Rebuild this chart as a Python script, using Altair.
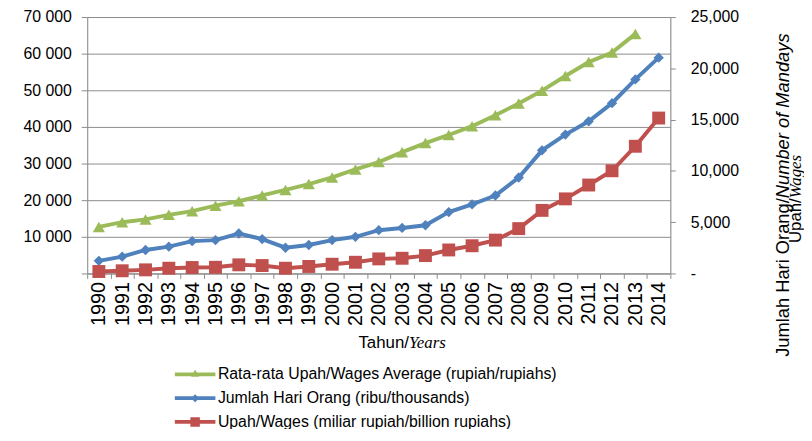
import altair as alt
import pandas as pd

years = [str(y) for y in range(1990, 2015)]

series_names = [
    "Rata-rata Upah/Wages Average (rupiah/rupiahs)",
    "Jumlah Hari Orang (ribu/thousands)",
    "Upah/Wages (miliar rupiah/billion rupiahs)",
]
series_colors = ["#9BBB59", "#4F81BD", "#C0504D"]

wages_average = [12700, 14000, 14750, 16000, 17000, 18500, 19700, 21300, 22800, 24400,
                 26200, 28400, 30400, 33100, 35600, 37800, 40200, 43200, 46400, 49900,
                 53900, 57700, 60300, 65400, None]
mandays = [1230, 1640, 2290, 2610, 3150, 3250, 3890, 3350, 2510, 2770,
           3250, 3570, 4220, 4440, 4700, 5980, 6730, 7600, 9360, 12000,
           13540, 14830, 16600, 18920, 21040]
wages = [190, 260, 350, 510, 580, 600, 840, 770, 510, 680,
         900, 1090, 1420, 1480, 1740, 2290, 2700, 3250, 4370, 6150,
         7270, 8620, 10010, 12400, 15150]

left_ticks = [0, 10000, 20000, 30000, 40000, 50000, 60000, 70000]
right_ticks = [0, 5000, 10000, 15000, 20000, 25000]

rows = []
for name, vals in zip(series_names, [wages_average, mandays, wages]):
    for y, v in zip(years, vals):
        if v is not None:
            rows.append({"year": y, "series": name, "value": v})
df = pd.DataFrame(rows)

FONT = "Liberation Sans"
SERIF = "Liberation Serif"
GRID = "#8C8C8C"

color_scale = alt.Scale(domain=series_names, range=series_colors)
x_enc = alt.X("year:O", sort=years, scale=alt.Scale(paddingInner=0, paddingOuter=0),
              axis=alt.Axis(title=None, labelAngle=270, labelFontSize=20, labelFont=FONT,
                            labelColor="#000000", tickBand="extent", tickSize=5,
                            tickColor=GRID, domainColor=GRID, labelPadding=3, grid=False))

base = alt.Chart(df)
col = alt.Color("series:N", scale=color_scale)

# left axis: wages average
yl = alt.Y("value:Q", scale=alt.Scale(domain=[0, 70000], nice=False),
           axis=alt.Axis(title=None, values=left_ticks, orient="left",
                         labelExpr="datum.value == 0 ? '' : replace(format(datum.value, ','), ',', ' ')",
                         labelFontSize=16, labelFont=FONT, labelColor="#000000",
                         grid=True, gridColor=GRID, gridWidth=1, tickSize=6, tickColor=GRID,
                         domainColor=GRID, labelPadding=10))
green = base.transform_filter(alt.datum.series == series_names[0])
left = alt.layer(
    green.mark_line(strokeWidth=4).encode(x=x_enc, y=yl, color=col),
    green.mark_point(shape="triangle-up", filled=True, size=150, opacity=1).encode(
        x=x_enc, y=yl, color=col),
)

# right axis: mandays and wages
yr = alt.Y("value:Q", scale=alt.Scale(domain=[0, 25000], nice=False),
           axis=alt.Axis(title=None, values=right_ticks, orient="right",
                         labelExpr="datum.value == 0 ? '-' : format(datum.value, ',')",
                         labelFontSize=16, labelFont=FONT, labelColor="#000000", labelAlign="left",
                         grid=False, tickSize=5, tickColor=GRID, domainColor=GRID, labelPadding=15))
others = base.transform_filter(alt.datum.series != series_names[0])
blue = base.transform_filter(alt.datum.series == series_names[1])
red = base.transform_filter(alt.datum.series == series_names[2])

line_path = "M-2.56,-0.24H2.56V0.24H-2.56Z "
legend_paths = [
    line_path + "M0,-0.62L0.5,0.3L-0.5,0.3Z",
    line_path + "M0,-0.5L0.5,0L0,0.5L-0.5,0Z",
    line_path + "M-0.6,-0.6H0.6V0.6H-0.6Z",
]
legend = alt.Legend(title=None, orient="none", legendX=101, legendY=353, direction="vertical",
                    symbolSize=256, symbolStrokeWidth=0, labelFontSize=16, labelFont=FONT,
                    labelColor="#000000", labelOffset=15, rowPadding=8, padding=0,
                    symbolOpacity=1, labelLimit=0)

right = alt.layer(
    others.mark_line(strokeWidth=4).encode(x=x_enc, y=yr, color=col),
    blue.mark_point(shape="diamond", filled=True, size=110, opacity=1).encode(
        x=x_enc, y=yr, color=col),
    red.mark_point(shape="square", filled=True, size=170, opacity=1).encode(
        x=x_enc, y=yr, color=col),
    base.mark_point(filled=True, opacity=0).encode(
        x=x_enc, y=yr,
        color=alt.Color("series:N", scale=color_scale, legend=legend),
        shape=alt.Shape("series:N", scale=alt.Scale(domain=series_names, range=legend_paths), legend=legend)),
)

one = pd.DataFrame({"t": [0]})
def label(text, x, y, align, font=FONT, italic=False, angle=0, size=17, baseline="alphabetic"):
    return alt.Chart(one).mark_text(
        text=text, align=align, baseline=baseline, font=font, fontSize=size,
        fontStyle="italic" if italic else "normal", angle=angle, color="#000000"
    ).encode(x=alt.value(x), y=alt.value(y))

texts = [
    label("Tahun/", 325, 334, "right"),
    label("Years", 325, 334, "left", font=SERIF, italic=True),
    label("Jumlah Hari Orang/", 709, 183, "right", angle=270, size=18.5),
    label("Number of Mandays", 709, 183, "left", italic=True, angle=270, size=18.5),
    label("Upah/", 721, 183, "right", angle=270, size=17),
    label("Wages", 721, 183, "left", font=SERIF, italic=True, angle=270, size=17),
]

chart = alt.layer(left, right, *texts).resolve_scale(y="independent").properties(
    width=589, height=259,
    autosize=alt.AutoSizeParams(type="none"),
    padding={"left": 80, "top": 7, "right": 135, "bottom": 155},
).configure_view(stroke=None).configure(background="white")

chart.save("out.html", embed_options={"renderer": "svg", "actions": False})
